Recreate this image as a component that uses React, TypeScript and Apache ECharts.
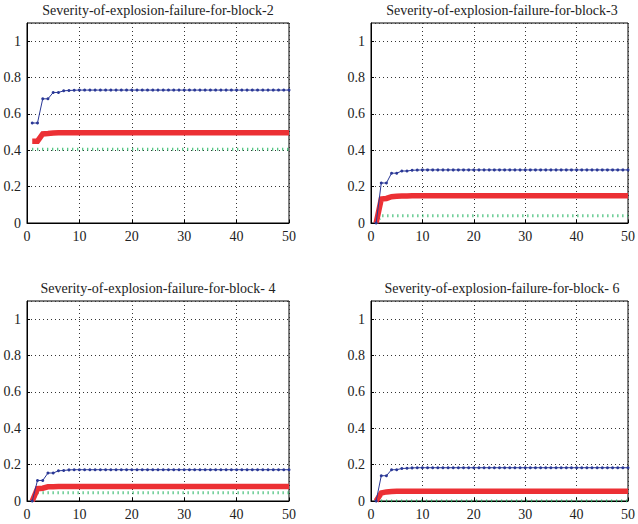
import React, { useEffect, useRef } from "react";
import * as echarts from "echarts";

// Iteration index 1..50
const iterations = [
  1, 2, 3, 4, 5, 6, 7, 8, 9, 10,
  11, 12, 13, 14, 15, 16, 17, 18, 19, 20,
  21, 22, 23, 24, 25, 26, 27, 28, 29, 30,
  31, 32, 33, 34, 35, 36, 37, 38, 39, 40,
  41, 42, 43, 44, 45, 46, 47, 48, 49, 50,
];

const titles = [
  "Severity-of-explosion-failure-for-block-2",
  "Severity-of-explosion-failure-for-block-3",
  "Severity-of-explosion-failure-for-block- 4",
  "Severity-of-explosion-failure-for-block- 6",
];

const xTicks = [0, 10, 20, 30, 40, 50];
const yTicks = [0, 0.2, 0.4, 0.6, 0.8, 1];

// Block 2
const b2Blue = [
  0.55, 0.55, 0.683, 0.683, 0.718, 0.718, 0.727, 0.729, 0.730, 0.731,
  0.731, 0.731, 0.731, 0.731, 0.731, 0.731, 0.731, 0.731, 0.731, 0.731,
  0.731, 0.731, 0.731, 0.731, 0.731, 0.731, 0.731, 0.731, 0.731, 0.731,
  0.731, 0.731, 0.731, 0.731, 0.731, 0.731, 0.731, 0.731, 0.731, 0.731,
  0.731, 0.731, 0.731, 0.731, 0.731, 0.731, 0.731, 0.731, 0.731, 0.731,
];
const b2Red = [
  0.45, 0.45, 0.49, 0.492, 0.495, 0.496, 0.497, 0.497, 0.497, 0.497,
  0.497, 0.497, 0.497, 0.497, 0.497, 0.497, 0.497, 0.497, 0.497, 0.497,
  0.497, 0.497, 0.497, 0.497, 0.497, 0.497, 0.497, 0.497, 0.497, 0.497,
  0.497, 0.497, 0.497, 0.497, 0.497, 0.497, 0.497, 0.497, 0.497, 0.497,
  0.497, 0.497, 0.497, 0.497, 0.497, 0.497, 0.497, 0.497, 0.497, 0.497,
];
const b2Green = [
  0.405, 0.405, 0.405, 0.405, 0.405, 0.405, 0.405, 0.405, 0.405, 0.405,
  0.405, 0.405, 0.405, 0.405, 0.405, 0.405, 0.405, 0.405, 0.405, 0.405,
  0.405, 0.405, 0.405, 0.405, 0.405, 0.405, 0.405, 0.405, 0.405, 0.405,
  0.405, 0.405, 0.405, 0.405, 0.405, 0.405, 0.405, 0.405, 0.405, 0.405,
  0.405, 0.405, 0.405, 0.405, 0.405, 0.405, 0.405, 0.405, 0.405, 0.405,
];

// Block 3
const b3Blue = [
  0, 0.22, 0.22, 0.274, 0.274, 0.286, 0.286, 0.29, 0.291, 0.292,
  0.292, 0.292, 0.292, 0.292, 0.292, 0.292, 0.292, 0.292, 0.292, 0.292,
  0.292, 0.292, 0.292, 0.292, 0.292, 0.292, 0.292, 0.292, 0.292, 0.292,
  0.292, 0.292, 0.292, 0.292, 0.292, 0.292, 0.292, 0.292, 0.292, 0.292,
  0.292, 0.292, 0.292, 0.292, 0.292, 0.292, 0.292, 0.292, 0.292, 0.292,
];
const b3Red = [
  0, 0.132, 0.135, 0.145, 0.147, 0.148, 0.149, 0.15, 0.15, 0.15,
  0.15, 0.15, 0.15, 0.15, 0.15, 0.15, 0.15, 0.15, 0.15, 0.15,
  0.15, 0.15, 0.15, 0.15, 0.15, 0.15, 0.15, 0.15, 0.15, 0.15,
  0.15, 0.15, 0.15, 0.15, 0.15, 0.15, 0.15, 0.15, 0.15, 0.15,
  0.15, 0.15, 0.15, 0.15, 0.15, 0.15, 0.15, 0.15, 0.15, 0.15,
];
const b3Green = [
  0, 0.04, 0.04, 0.04, 0.04, 0.04, 0.04, 0.04, 0.04, 0.04,
  0.04, 0.04, 0.04, 0.04, 0.04, 0.04, 0.04, 0.04, 0.04, 0.04,
  0.04, 0.04, 0.04, 0.04, 0.04, 0.04, 0.04, 0.04, 0.04, 0.04,
  0.04, 0.04, 0.04, 0.04, 0.04, 0.04, 0.04, 0.04, 0.04, 0.04,
  0.04, 0.04, 0.04, 0.04, 0.04, 0.04, 0.04, 0.04, 0.04, 0.04,
];

// Block 4
const b4Blue = [
  0, 0.113, 0.113, 0.154, 0.154, 0.166, 0.168, 0.171, 0.172, 0.172,
  0.172, 0.172, 0.172, 0.172, 0.172, 0.172, 0.172, 0.172, 0.172, 0.172,
  0.172, 0.172, 0.172, 0.172, 0.172, 0.172, 0.172, 0.172, 0.172, 0.172,
  0.172, 0.172, 0.172, 0.172, 0.172, 0.172, 0.172, 0.172, 0.172, 0.172,
  0.172, 0.172, 0.172, 0.172, 0.172, 0.172, 0.172, 0.172, 0.172, 0.172,
];
const b4Red = [
  0, 0.068, 0.07, 0.078, 0.079, 0.08, 0.08, 0.08, 0.08, 0.08,
  0.08, 0.08, 0.08, 0.08, 0.08, 0.08, 0.08, 0.08, 0.08, 0.08,
  0.08, 0.08, 0.08, 0.08, 0.08, 0.08, 0.08, 0.08, 0.08, 0.08,
  0.08, 0.08, 0.08, 0.08, 0.08, 0.08, 0.08, 0.08, 0.08, 0.08,
  0.08, 0.08, 0.08, 0.08, 0.08, 0.08, 0.08, 0.08, 0.08, 0.08,
];
const b4Green = [
  0, 0.046, 0.046, 0.046, 0.046, 0.046, 0.046, 0.046, 0.046, 0.046,
  0.046, 0.046, 0.046, 0.046, 0.046, 0.046, 0.046, 0.046, 0.046, 0.046,
  0.046, 0.046, 0.046, 0.046, 0.046, 0.046, 0.046, 0.046, 0.046, 0.046,
  0.046, 0.046, 0.046, 0.046, 0.046, 0.046, 0.046, 0.046, 0.046, 0.046,
  0.046, 0.046, 0.046, 0.046, 0.046, 0.046, 0.046, 0.046, 0.046, 0.046,
];

// Block 6
const b6Blue = [
  0, 0.139, 0.139, 0.172, 0.172, 0.179, 0.18, 0.182, 0.183, 0.183,
  0.183, 0.183, 0.183, 0.183, 0.183, 0.183, 0.183, 0.183, 0.183, 0.183,
  0.183, 0.183, 0.183, 0.183, 0.183, 0.183, 0.183, 0.183, 0.183, 0.183,
  0.183, 0.183, 0.183, 0.183, 0.183, 0.183, 0.183, 0.183, 0.183, 0.183,
  0.183, 0.183, 0.183, 0.183, 0.183, 0.183, 0.183, 0.183, 0.183, 0.183,
];
const b6Red = [
  0, 0.044, 0.05, 0.052, 0.053, 0.053, 0.053, 0.053, 0.053, 0.053,
  0.053, 0.053, 0.053, 0.053, 0.053, 0.053, 0.053, 0.053, 0.053, 0.053,
  0.053, 0.053, 0.053, 0.053, 0.053, 0.053, 0.053, 0.053, 0.053, 0.053,
  0.053, 0.053, 0.053, 0.053, 0.053, 0.053, 0.053, 0.053, 0.053, 0.053,
  0.053, 0.053, 0.053, 0.053, 0.053, 0.053, 0.053, 0.053, 0.053, 0.053,
];
const b6Green = [
  0, 0, 0, 0, 0, 0, 0, 0, 0, 0,
  0, 0, 0, 0, 0, 0, 0, 0, 0, 0,
  0, 0, 0, 0, 0, 0, 0, 0, 0, 0,
  0, 0, 0, 0, 0, 0, 0, 0, 0, 0,
  0, 0, 0, 0, 0, 0, 0, 0, 0, 0,
];

const blocks = [
  { blue: b2Blue, red: b2Red, green: b2Green },
  { blue: b3Blue, red: b3Red, green: b3Green },
  { blue: b4Blue, red: b4Red, green: b4Green },
  { blue: b6Blue, red: b6Red, green: b6Green },
];

const FONT = "serif";
const BLUE = "#2a3896";
const RED = "#ec3034";
const GREEN = "#1fb35e";

const grids = [
  { left: 27, top: 23, width: 262, height: 200 },
  { left: 371, top: 23, width: 262, height: 200 },
  { left: 27, top: 301, width: 262, height: 200 },
  { left: 371, top: 301, width: 262, height: 200 },
];

export default function App() {
  const ref = useRef<HTMLDivElement>(null);

  useEffect(() => {
    if (!ref.current) return;
    const chart = echarts.init(ref.current, undefined, { renderer: "svg" });

    const pair = (arr: number[]) => arr.map((v, i) => [iterations[i], v]);

    const splitLine = {
      show: true,
      lineStyle: { color: "#333", width: 1, type: [1, 3] as any },
    };

    const option: any = {
      animation: false,
      backgroundColor: "#fff",
      textStyle: { fontFamily: FONT },
      title: grids.map((g, i) => ({
        text: titles[i],
        left: g.left + g.width / 2,
        top: g.top - 20,
        textAlign: "center",
        padding: 0,
        textStyle: {
          fontFamily: FONT,
          fontSize: 14,
          fontWeight: "normal",
          color: "#222",
        },
      })),
      grid: grids.map((g) => ({
        ...g,
        show: true,
        borderColor: "#000",
        borderWidth: 1,
        backgroundColor: "transparent",
        containLabel: false,
      })),
      xAxis: grids.map((_, i) => ({
        type: "value",
        gridIndex: i,
        min: xTicks[0],
        max: xTicks[xTicks.length - 1],
        interval: xTicks[1] - xTicks[0],
        axisLine: { show: true, onZero: false, lineStyle: { color: "#000", width: 1 } },
        axisTick: { show: true, inside: true, length: 3, lineStyle: { color: "#000" } },
        axisLabel: {
          margin: 6,
          fontFamily: FONT,
          fontSize: 14,
          color: "#222",
        },
        splitLine,
      })),
      yAxis: grids.map((_, i) => ({
        type: "value",
        gridIndex: i,
        min: yTicks[0],
        max: 1.1,
        interval: yTicks[1] - yTicks[0],
        axisLine: { show: true, onZero: false, lineStyle: { color: "#000", width: 1 } },
        axisTick: { show: true, inside: true, length: 3, lineStyle: { color: "#000" } },
        axisLabel: {
          margin: 6,
          showMaxLabel: false,
          fontFamily: FONT,
          fontSize: 14,
          color: "#222",
          formatter: (v: number) => (v > 1.05 ? "" : String(Math.round(v * 10) / 10)),
        },
        splitLine,
      })),
      series: blocks.flatMap((b, i) => [
        {
          type: "line",
          xAxisIndex: i,
          yAxisIndex: i,
          data: pair(b.green),
          showSymbol: false,
          symbol: "none",
          lineStyle: { color: GREEN, width: 3, type: [1, 4] },
          z: 2,
        },
        {
          type: "line",
          xAxisIndex: i,
          yAxisIndex: i,
          data: pair(b.red),
          showSymbol: false,
          symbol: "none",
          lineStyle: { color: RED, width: 5.5, join: "miter" },
          z: 3,
        },
        {
          type: "line",
          xAxisIndex: i,
          yAxisIndex: i,
          data: pair(b.blue),
          symbol: "circle",
          symbolSize: 3,
          showSymbol: true,
          itemStyle: { color: BLUE },
          lineStyle: { color: BLUE, width: 1 },
          z: 4,
        },
      ]),
    };

    chart.setOption(option);
    return () => chart.dispose();
  }, []);

  return (
    <div
      ref={ref}
      style={{ position: "fixed", left: 0, top: 0, width: 638, height: 524, background: "#fff" }}
    />
  );
}
